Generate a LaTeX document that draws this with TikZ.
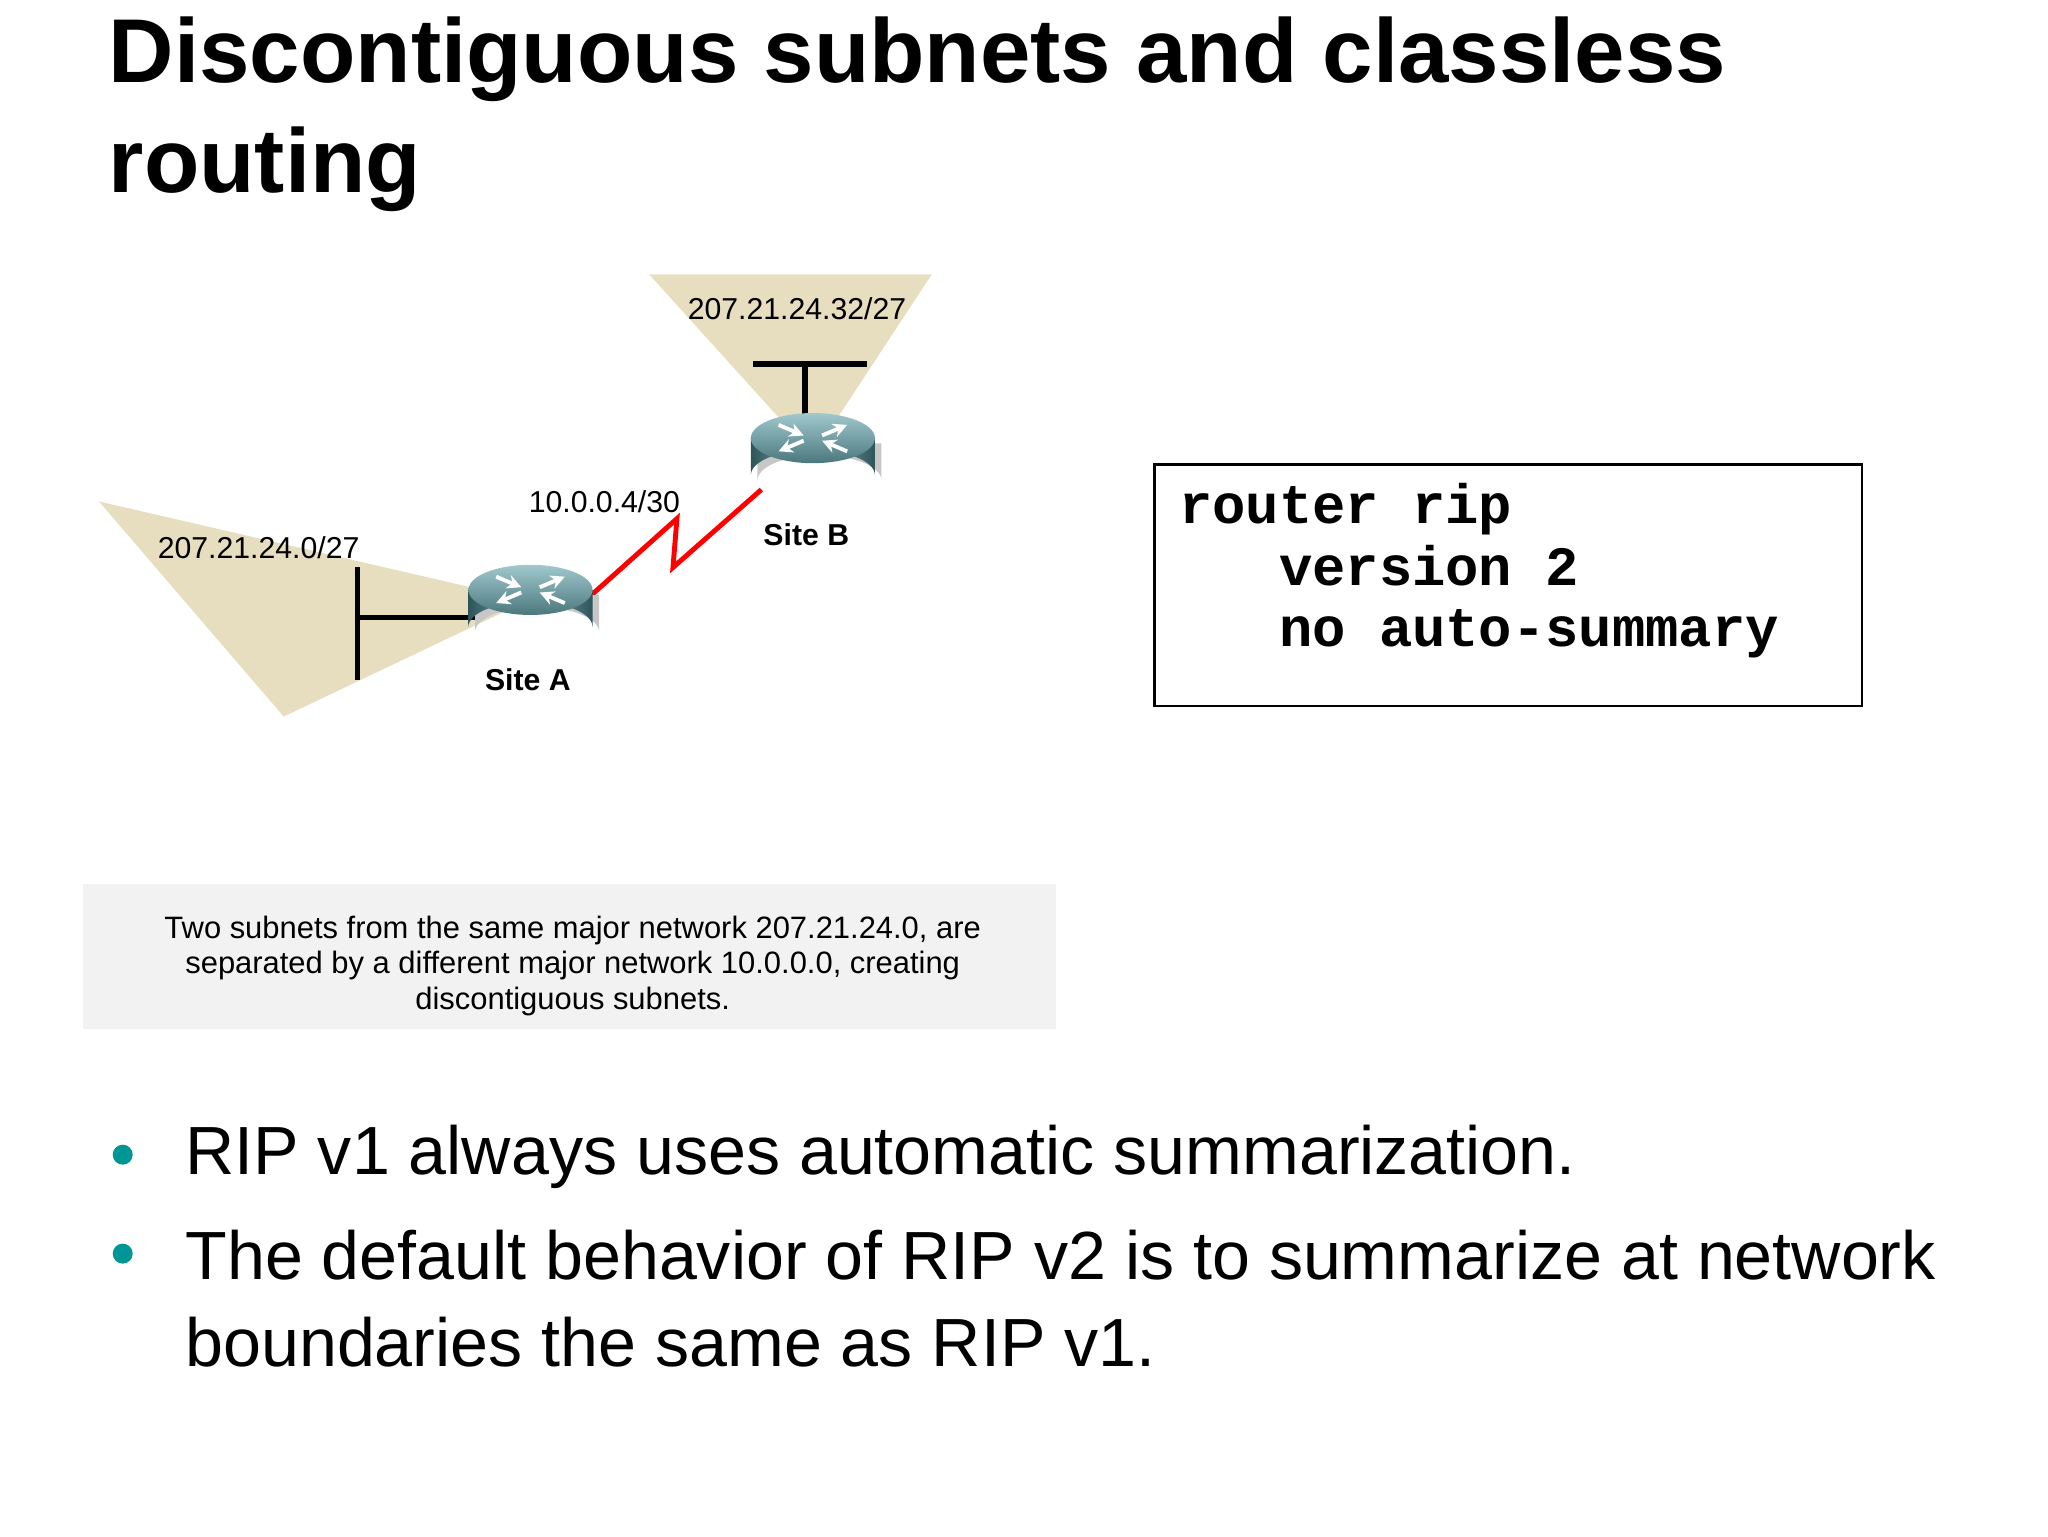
\documentclass[tikz,border=0pt]{standalone}
\usepackage{fontspec}
\setmainfont{Liberation Sans}
\newfontfamily\codefont{Liberation Mono}
\usetikzlibrary{arrows.meta}
\begin{document}
\begin{tikzpicture}[x=0.0132cm,y=-0.0132cm,
  lbl/.style={font=\fontsize{8.6pt}{10pt}\selectfont,inner sep=0pt},
  sitelbl/.style={font=\bfseries\fontsize{8.6pt}{10pt}\selectfont,inner sep=0pt},
  fan/.style={fill={rgb,255:red,230;green,222;blue,190},draw=none},
  eth/.style={line width=1.6pt,black},
  rarr/.style={white,line width=1.1pt,-{Stealth[length=4pt,width=4pt]}},
  bullet/.style={circle,fill={rgb,255:red,0;green,150;blue,150},minimum size=0.2cm,inner sep=0pt}]
\useasboundingbox (0,0) rectangle (1552,1164);
% title
\node[anchor=north west,align=left,font=\bfseries\fontsize{25.8pt}{31.5pt}\selectfont,inner sep=0pt] (title) at (82,12) {Discontiguous subnets and classless\\routing};
% fans
\fill[fan] (75,380) -- (400,455) -- (215,543) -- cycle;
\fill[fan] (492,208) -- (706,208) -- (616,345) -- cycle;
% ethernet
\draw[eth] (271,430) -- (271,515);
\draw[eth] (271,468) -- (365,468);
\draw[eth] (571,276) -- (657,276);
\draw[eth] (610,276) -- (610,318);
% red link
\draw[red,line width=1.4pt] (447,452) -- (513,393) -- (510,430) -- (577,371);
% routers
\foreach \n/\cx/\cy in {ra/402/447,rb/616/332}{
  \fill[black!22] (\cx-42,\cy+4) -- (\cx-42,\cy+32) arc[start angle=180,end angle=360,x radius=47,y radius=19] -- (\cx+52,\cy+4) -- cycle;
  \shade[left color={rgb,255:red,45;green,85;blue,90},right color={rgb,255:red,45;green,85;blue,90},middle color={rgb,255:red,140;green,180;blue,185}]
    (\cx-47,\cy) -- (\cx-47,\cy+28) arc[start angle=180,end angle=360,x radius=47,y radius=19] -- (\cx+47,\cy) -- cycle;
  \shade[top color={rgb,255:red,160;green,200;blue,205},bottom color={rgb,255:red,75;green,120;blue,125}] (\cx,\cy) ellipse[x radius=47,y radius=19];
  \draw[rarr] (\cx-26,\cy-10) -- (\cx-7,\cy-2);
  \draw[rarr] (\cx+26,\cy+10) -- (\cx+7,\cy+2);
  \draw[rarr] (\cx+7,\cy-2) -- (\cx+26,\cy-10);
  \draw[rarr] (\cx-7,\cy+2) -- (\cx-26,\cy+10);
  \coordinate (\n) at (\cx,\cy);
}
\node[sitelbl] (sa) at (400,515) {Site A};
\node[sitelbl] (sb) at (611,405) {Site B};
\node[lbl] (n1) at (604,234) {207.21.24.32/27};
\node[lbl] (n2) at (196,415) {207.21.24.0/27};
\node[lbl] (n3) at (458,380) {10.0.0.4/30};
% code box
\draw[line width=0.8pt] (875,352) rectangle (1411,535);
\node[anchor=north west,align=left,inner sep=0pt,font=\codefont\bfseries\fontsize{15.8pt}{17.5pt}\selectfont] (code) at (893,366)
 {router rip\\\ \ \ version 2\\\ \ \ no auto-summary};
% caption
\fill[black!5] (63,670) rectangle (800,780);
\node[align=center,inner sep=0pt,font=\fontsize{8.8pt}{10.2pt}\selectfont] (cap) at (434,732)
 {Two subnets from the same major network 207.21.24.0, are\\separated by a different major network 10.0.0.0, creating\\discontiguous subnets.};
% bullets
\node[bullet] (b1) at (93,875) {};
\node[bullet] (b2) at (93,950) {};
\node[anchor=west,inner sep=0pt,font=\fontsize{19.4pt}{25pt}\selectfont] (t1) at (140,877) {RIP v1 always uses automatic summarization.};
\node[anchor=north west,align=left,inner sep=0pt,font=\fontsize{19.4pt}{24.5pt}\selectfont] (t2) at (140,932) {The default behavior of RIP v2 is to summarize at network\\boundaries the same as RIP v1.};
\end{tikzpicture}
\end{document}
